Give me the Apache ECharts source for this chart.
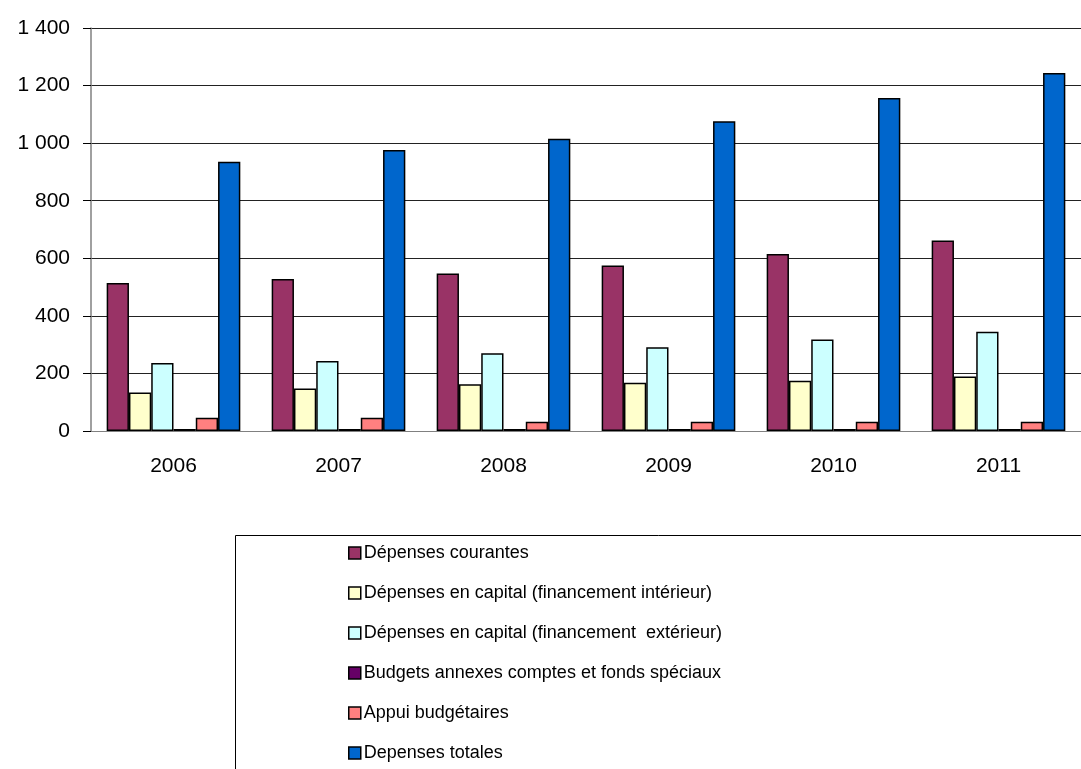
<html lang="fr">
<head>
    <meta charset="UTF-8">
    <title>Dépenses</title>
    <style>
        html, body {
            margin: 0;
            width: 100%;
            height: 100%;
            background: #ffffff;
            overflow: hidden;
        }

        #container {
            width: 1081px;
            height: 769px;
        }
    </style>
</head>
<body>
<div id="container"></div>
</body>
<script type="text/javascript" src="https://cdn.jsdelivr.net/npm/echarts@6/dist/echarts.min.js"></script>
<script>
    // années
    var annees = ['2006', '2007', '2008', '2009', '2010', '2011'];

    // séries
    var depCourantes = [514, 528, 547, 575, 615, 662];
    var capInterieur = [134, 148, 162, 168, 175, 189];
    var capExterieur = [236, 243, 270, 291, 318, 345];
    var budgetsAnnexes = [7, 7, 7, 7, 7, 7];
    var appuiBudget = [46, 46, 32, 32, 32, 32];
    var depTotales = [935, 976, 1015, 1076, 1157, 1244];

    var noms = [
        'Dépenses courantes',
        'Dépenses en capital (financement intérieur)',
        'Dépenses en capital (financement  extérieur)',
        'Budgets annexes comptes et fonds spéciaux',
        'Appui budgétaires',
        'Depenses totales'
    ];
    var couleurs = ['#993366', '#FFFFCC', '#CCFFFF', '#660066', '#FF8080', '#0066CC'];
    var valeurs = [depCourantes, capInterieur, capExterieur, budgetsAnnexes, appuiBudget, depTotales];

    var police = '"Liberation Sans", Arial, sans-serif';

    var series = [];
    for (var i = 0; i < noms.length; i++) {
        series.push({
            name: noms[i],
            type: 'bar',
            barGap: '0%',
            barCategoryGap: '19%',
            itemStyle: {
                color: couleurs[i],
                borderColor: '#000',
                borderWidth: 1.5
            },
            data: valeurs[i]
        });
    }

    var myCharts = echarts.init(document.getElementById("container"));
    var option = {
        animation: false,
        textStyle: {fontFamily: police},
        grid: {
            left: 91,
            right: -12,   // le graphique original est coupé à droite
            top: 28,
            bottom: 338
        },
        // cadre de la légende (coupé en bas et à droite)
        graphic: [{
            type: 'rect',
            shape: {x: 235.5, y: 535.5, width: 900, height: 300},
            style: {fill: 'none', stroke: '#000', lineWidth: 1}
        }],
        legend: {
            orient: 'vertical',
            left: 348,
            top: 544,
            padding: 0,
            itemWidth: 12,
            itemHeight: 12,
            itemGap: 22,
            icon: 'rect',
            itemStyle: {borderColor: '#000', borderWidth: 1.5},
            textStyle: {fontSize: 18, color: '#000', fontFamily: police, padding: [0, 0, 0, -2]},
            data: noms
        },
        xAxis: {
            type: 'category',
            data: annees,
            axisLine: {lineStyle: {color: '#808080', width: 1}},
            axisTick: {length: 7, lineStyle: {color: '#000'}},
            axisLabel: {fontSize: 21, color: '#000', margin: 25, fontFamily: police}
        },
        yAxis: {
            type: 'value',
            min: 0,
            max: 1400,
            interval: 200,
            axisLine: {show: true, lineStyle: {color: '#808080', width: 1.5}},
            axisTick: {show: true, length: 8, lineStyle: {color: '#000'}},
            splitLine: {lineStyle: {color: '#222', width: 1}},
            axisLabel: {
                fontSize: 21,
                color: '#000',
                margin: 21,
                fontFamily: police,
                formatter: function (v) {
                    return String(v).replace(/\B(?=(\d{3})+(?!\d))/g, ' ');
                }
            }
        },
        series: series
    };

    myCharts.setOption(option);
</script>
</html>
